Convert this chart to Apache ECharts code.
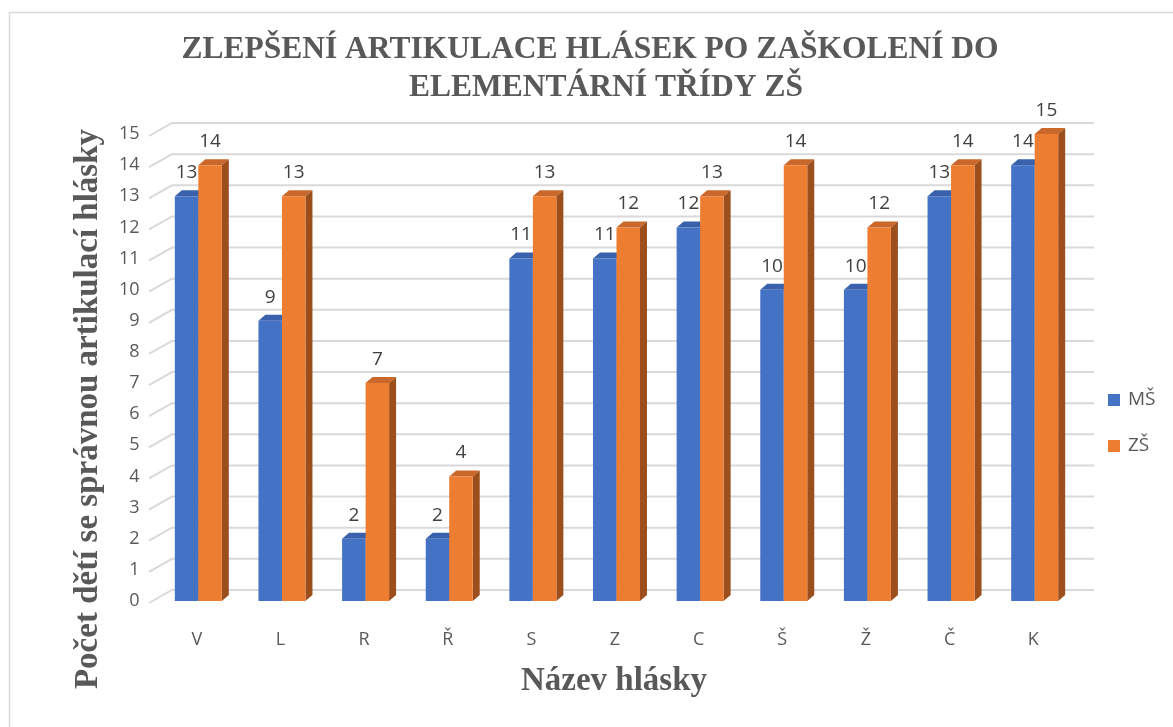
<!DOCTYPE html>
<html>
<head>
<meta charset="utf-8">
<script src="https://cdn.jsdelivr.net/npm/echarts@6/dist/echarts.min.js"></script>
<style>html,body{margin:0;padding:0;background:#fff}#c{width:1173px;height:727px}</style>
</head>
<body>
<div id="c"></div>
<script>
const categories = ['V','L','R','Ř','S','Z','C','Š','Ž','Č','K'];
const msValues = [13,9,2,2,11,11,12,10,10,13,14];
const zsValues = [14,13,7,4,13,12,13,14,12,14,15];
const yTicks = [0,1,2,3,4,5,6,7,8,9,10,11,12,13,14,15];
const seriesNames = ['MŠ','ZŠ'];
const titleLine1 = 'ZLEPŠENÍ ARTIKULACE HLÁSEK PO ZAŠKOLENÍ DO';
const titleLine2 = 'ELEMENTÁRNÍ TŘÍDY ZŠ';
const xTitle = 'Název hlásky';
const yTitle = 'Počet dětí se správnou artikulací hlásky';

const BW = 23.5, DX = 7, DY = -6;
const frontColors = ['#4472C4','#ED7D31'];
const topColors = ['#3A62AC','#C9682A'];
const sideColors = ['#2F528F','#9C4F1C'];

function faceSeries(s, values){
  return {
    type:'custom', xAxisIndex:0, yAxisIndex:0, silent:true, z:1,
    data: values.map((v,i)=>[i,v]),
    renderItem:function(params, api){
      const i = api.value(0), v = api.value(1);
      const pt = api.coord([i, v]);
      const base = api.coord([i, 0]);
      const x0 = pt[0] - BW + s*BW, x1 = x0 + BW;
      const yT = pt[1], yB = base[1];
      return {type:'group', children:[
        {type:'polygon', shape:{points:[[x0,yT],[x1,yT],[x1+DX,yT+DY],[x0+DX,yT+DY]]}, style:{fill:topColors[s]}},
        {type:'polygon', shape:{points:[[x1,yT],[x1+DX,yT+DY],[x1+DX,yB+DY],[x1,yB]]}, style:{fill:sideColors[s]}}
      ]};
    }
  };
}

const labelStyle = {show:true, position:'top', distance:14, fontSize:19, color:'#404040', fontFamily:'Open Sans'};

const option = {
  animation:false,
  backgroundColor:'#fff',
  grid:[
    {left:156.5, right:96.5, top:134, bottom:126}
  ],
  xAxis:[
    {type:'category', gridIndex:0, data:categories, axisLine:{show:false}, axisTick:{show:false},
     axisLabel:{margin:30, fontSize:18, color:'#595959', fontFamily:'Open Sans', padding:[0,3,0,0]}}
  ],
  yAxis:[
    {type:'value', gridIndex:0, min:0, max:15, interval:1, axisLine:{show:false}, axisTick:{show:false}, splitLine:{show:false},
     axisLabel:{margin:17, fontSize:18, color:'#595959', fontFamily:'Open Sans', padding:[4,0,0,0]}}
  ],
  legend:{
    data:seriesNames, orient:'vertical', left:1108, top:390.5, padding:0, itemWidth:12, itemHeight:12, itemGap:27,
    icon:'rect', textStyle:{fontSize:19, color:'#595959', fontFamily:'Open Sans', lineHeight:18, padding:[0,0,0,3]}
  },
  graphic:[
    {type:'rect', shape:{x:9.5, y:12.5, width:1200, height:800}, style:{fill:null, stroke:'#D9D9D9', lineWidth:1.5}, silent:true},
    {type:'text', x:590, y:50, style:{text:titleLine1, font:'bold 31.5px "Liberation Serif"', fill:'#595959', textAlign:'center', textVerticalAlign:'middle'}},
    {type:'text', x:606, y:88, style:{text:titleLine2, font:'bold 31.5px "Liberation Serif"', fill:'#595959', textAlign:'center', textVerticalAlign:'middle'}},
    {type:'text', x:614, y:681, style:{text:xTitle, font:'bold 33px "Liberation Serif"', fill:'#595959', textAlign:'center', textVerticalAlign:'middle'}},
    {type:'text', x:88, y:409, rotation:Math.PI/2, style:{text:yTitle, font:'bold 33px "Liberation Serif"', fill:'#595959', textAlign:'center', textVerticalAlign:'middle'}}
  ],
  series:[
    {
      type:'custom', xAxisIndex:0, yAxisIndex:0, silent:true, z:0,
      data: yTicks.map(v=>[0,v]),
      renderItem:function(params, api){
        const cs = params.coordSys;
        const y = api.coord([0, api.value(1)])[1];
        return {type:'polyline', shape:{points:[[cs.x-7.5, y+2],[cs.x+15.5, y-11],[cs.x+cs.width+17.5, y-11]]},
          style:{stroke:'#D9D9D9', lineWidth:2, fill:null}};
      }
    },
    faceSeries(0, msValues),
    faceSeries(1, zsValues),
    {name:seriesNames[0], type:'bar', xAxisIndex:0, yAxisIndex:0, z:2, barWidth:BW, barGap:'0%', data:msValues,
     itemStyle:{color:frontColors[0]}, label:labelStyle},
    {name:seriesNames[1], type:'bar', xAxisIndex:0, yAxisIndex:0, z:2, barWidth:BW, barGap:'0%', data:zsValues,
     itemStyle:{color:frontColors[1]}, label:labelStyle}
  ]
};
const chart = echarts.init(document.getElementById('c'), null, {renderer:'canvas'});
chart.setOption(option);
</script>
</body>
</html>
